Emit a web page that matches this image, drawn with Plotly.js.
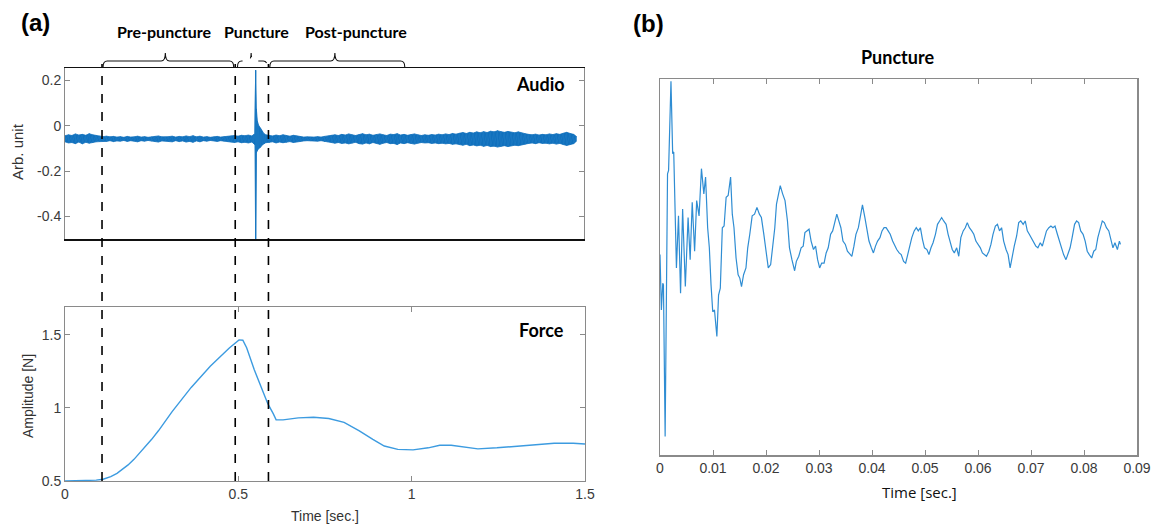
<!DOCTYPE html>
<html>
<head>
<meta charset="utf-8">
<script src="https://cdn.plot.ly/plotly-3.0.1.min.js"></script>
<style>html,body{margin:0;padding:0;background:#fff;}#chart{width:1156px;height:526px;}</style>
</head>
<body>
<div id="chart"></div>
<script>
// ---------- Panel (a) : Audio (min/max envelope per time bin) ----------
const audioT = [0.00,0.01,0.02,0.03,0.04,0.05,0.06,0.07,0.08,0.09,
  0.10,0.11,0.12,0.13,0.14,0.15,0.16,0.17,0.18,0.19,0.20,0.21,0.22,0.23,0.24,0.25,0.26,0.27,0.28,0.29,
  0.30,0.31,0.32,0.33,0.34,0.35,0.36,0.37,0.38,0.39,0.40,0.41,0.42,0.43,0.44,0.45,0.46,0.47,
  0.48,0.49,0.50,0.51,0.52,0.53,
  0.540,0.545,0.549,0.551,0.553,0.556,0.560,0.565,0.570,0.575,0.580,
  0.59,0.60,0.61,0.62,0.63,0.64,0.65,0.66,0.67,0.68,
  0.69,0.70,0.71,0.72,0.73,0.74,0.75,0.76,
  0.77,0.78,0.79,0.80,0.81,0.82,0.83,0.84,0.85,0.86,0.87,0.88,0.89,0.90,0.91,0.92,0.93,0.94,0.95,0.96,
  0.97,0.98,0.99,1.00,1.01,1.02,1.03,1.04,1.05,1.06,1.07,1.08,1.09,1.10,1.11,1.12,1.13,
  1.14,1.15,1.16,1.17,1.18,1.19,1.20,1.21,1.22,1.23,1.24,1.25,1.26,1.27,1.28,1.29,1.30,1.31,1.32,1.33,
  1.34,1.35,1.36,1.37,1.38,1.39,1.40,1.41,1.42,1.43,1.44,1.45,1.46,1.47,1.477];
const audioHi = [-0.044,-0.040,-0.043,-0.036,-0.041,-0.038,-0.042,-0.035,-0.040,-0.043,
  -0.045,-0.048,-0.046,-0.049,-0.047,-0.050,-0.048,-0.051,-0.047,-0.050,-0.049,-0.046,-0.050,-0.048,-0.051,-0.049,-0.047,-0.045,-0.049,-0.050,
  -0.048,-0.046,-0.050,-0.047,-0.049,-0.045,-0.048,-0.044,-0.049,-0.046,-0.050,-0.048,-0.051,-0.049,-0.047,-0.050,-0.048,-0.046,
  -0.045,-0.043,-0.046,-0.042,-0.044,-0.041,
  -0.045,-0.040,-0.035,0.245,0.075,0.020,0.000,-0.010,-0.025,-0.035,-0.040,
  -0.043,-0.045,-0.041,-0.044,-0.040,-0.043,-0.046,-0.042,-0.045,-0.048,
  -0.050,-0.049,-0.051,-0.050,-0.048,-0.050,-0.047,-0.045,
  -0.042,-0.040,-0.043,-0.038,-0.041,-0.036,-0.040,-0.043,-0.039,-0.035,-0.040,-0.037,-0.042,-0.038,-0.036,-0.040,-0.043,-0.037,-0.039,-0.035,
  -0.041,-0.038,-0.042,-0.039,-0.036,-0.040,-0.043,-0.040,-0.042,-0.039,-0.041,-0.037,-0.040,-0.036,-0.039,-0.034,-0.037,
  -0.033,-0.030,-0.034,-0.029,-0.032,-0.027,-0.031,-0.026,-0.030,-0.024,-0.027,-0.022,-0.026,-0.029,-0.025,-0.028,-0.031,-0.027,-0.032,-0.035,
  -0.038,-0.040,-0.037,-0.041,-0.038,-0.040,-0.036,-0.039,-0.035,-0.038,-0.033,-0.029,-0.034,-0.038,-0.046];
const audioLo = [-0.071,-0.076,-0.074,-0.079,-0.072,-0.080,-0.073,-0.077,-0.075,-0.071,
  -0.070,-0.068,-0.069,-0.066,-0.070,-0.067,-0.068,-0.065,-0.069,-0.066,-0.067,-0.071,-0.066,-0.068,-0.065,-0.068,-0.070,-0.072,-0.067,-0.066,
  -0.069,-0.071,-0.066,-0.070,-0.067,-0.072,-0.069,-0.073,-0.067,-0.071,-0.066,-0.068,-0.065,-0.067,-0.069,-0.066,-0.068,-0.071,
  -0.072,-0.074,-0.071,-0.075,-0.073,-0.076,
  -0.072,-0.078,-0.085,-0.500,-0.120,-0.110,-0.100,-0.095,-0.085,-0.080,-0.075,
  -0.074,-0.071,-0.076,-0.072,-0.075,-0.073,-0.070,-0.074,-0.071,-0.069,
  -0.067,-0.066,-0.065,-0.067,-0.068,-0.066,-0.070,-0.072,
  -0.074,-0.077,-0.074,-0.078,-0.076,-0.080,-0.077,-0.073,-0.079,-0.081,-0.076,-0.080,-0.074,-0.078,-0.082,-0.077,-0.074,-0.079,-0.078,-0.083,
  -0.076,-0.079,-0.075,-0.078,-0.081,-0.077,-0.074,-0.076,-0.075,-0.078,-0.076,-0.079,-0.077,-0.080,-0.078,-0.082,-0.080,
  -0.083,-0.086,-0.082,-0.088,-0.085,-0.089,-0.086,-0.091,-0.087,-0.092,-0.090,-0.094,-0.091,-0.088,-0.092,-0.089,-0.086,-0.088,-0.084,-0.081,
  -0.078,-0.076,-0.079,-0.075,-0.078,-0.077,-0.080,-0.077,-0.081,-0.078,-0.083,-0.087,-0.082,-0.079,-0.070];

// ---------- Panel (a) : Force ----------
const forceT = [0,0.055,0.090,0.110,0.132,0.150,0.165,0.182,0.199,0.215,0.232,0.250,0.270,0.309,0.364,0.419,0.474,0.491,0.502,0.513,0.524,0.546,0.568,0.585,0.601,0.609,
  0.629,0.673,0.717,0.761,0.805,0.849,0.888,0.921,0.960,1.004,1.048,1.081,1.114,1.147,1.191,1.246,1.301,1.356,1.411,1.466,1.500];
const forceF = [0.500,0.502,0.506,0.512,0.530,0.552,0.577,0.610,0.648,0.690,0.735,0.785,0.845,0.975,1.140,1.285,1.410,1.447,1.465,1.463,1.412,1.261,1.133,1.029,0.959,0.918,
  0.918,0.932,0.936,0.927,0.901,0.843,0.785,0.739,0.716,0.713,0.727,0.744,0.744,0.732,0.720,0.727,0.737,0.748,0.758,0.758,0.753];

// ---------- Phase boundaries (sec.) ----------
const phaseLines = [0.107, 0.492, 0.588];
const phaseNames = ["Pre-puncture", "Puncture", "Post-puncture"];
const phaseStart = [0.110, 0.4985, 0.592];
const phaseEnd   = [0.4875, 0.585, 0.982];
const phaseMid   = [0.290, 0.538, 0.780];
const phaseLabelX = [0.288, 0.553, 0.840];

// ---------- Panel (b) : Puncture waveform (arb. units) ----------
const punT = [0,0.00026,0.00052,0.00065,0.00097,0.00142,0.00162,0.00207,0.00239,0.00259,0.00310,0.00349,0.00388,0.00427,0.00478,
  0.00530,0.00569,0.00608,0.00653,0.00692,0.00737,0.00782,0.00827,0.00860,0.00899,0.00931,0.00963,0.00995,0.01028,0.01073,
  0.01105,0.01138,0.01176,0.01209,0.01248,0.01286,0.01332,0.01364,0.01396,0.01435,0.01474,0.01506,0.01538,0.01577,0.01622,
  0.01655,0.01694,0.01739,0.01784,0.01829,0.01875,0.01913,0.01959,0.02004,0.02043,0.02088,0.02127,0.02166,0.02198,0.02237,
  0.02269,0.02314,0.02359,0.02405,0.02443,0.02489,0.02540,0.02573,0.02618,0.02663,0.02702,0.02734,0.02773,0.02812,0.02851,
  0.02896,0.02935,0.02974,0.03012,0.03051,0.03096,0.03135,0.03174,0.03219,0.03258,0.03297,0.03336,0.03374,0.03413,0.03452,
  0.03497,0.03536,0.03575,0.03620,0.03659,0.03697,0.03743,0.03782,0.03820,0.03866,0.03904,0.03943,0.03988,0.04027,0.04066,
  0.04105,0.04150,0.04189,0.04228,0.04266,0.04305,0.04344,0.04389,0.04428,0.04467,0.04512,0.04551,0.04596,0.04635,0.04674,
  0.04712,0.04751,0.04796,0.04835,0.04874,0.04913,0.04952,0.04990,0.05036,0.05074,0.05113,0.05152,0.05197,0.05236,0.05275,
  0.05314,0.05352,0.05398,0.05436,0.05475,0.05514,0.05553,0.05598,0.05637,0.05676,0.05721,0.05760,0.05798,0.05837,0.05882,
  0.05921,0.05960,0.05999,0.06044,0.06083,0.06122,0.06160,0.06206,0.06244,0.06283,0.06328,0.06367,0.06406,0.06445,0.06484,
  0.06529,0.06568,0.06606,0.06645,0.06684,0.06729,0.06768,0.06807,0.06852,0.06891,0.06930,0.06968,0.07014,0.07052,0.07091,
  0.07130,0.07175,0.07214,0.07253,0.07292,0.07337,0.07376,0.07414,0.07453,0.07498,0.07537,0.07576,0.07615,0.07660,0.07699,
  0.07738,0.07776,0.07822,0.07860,0.07899,0.07938,0.07983,0.08022,0.08061,0.08100,0.08145,0.08184,0.08222,0.08261,0.08306,
  0.08345,0.08384,0.08423,0.08468,0.08507,0.08546,0.08584,0.08630,0.08668,0.08688];
const punY = [0.066,-0.229,-0.086,-0.095,-0.901,0.496,0.514,0.988,0.603,0.612,-0.005,0.272,-0.140,0.308,-0.104,
  0.263,0.039,0.344,0.084,0.353,0.272,0.523,0.389,0.478,0.209,0.102,-0.095,-0.238,-0.229,-0.369,
  -0.149,-0.113,0.209,0.218,0.371,0.380,0.478,0.281,0.209,0.048,-0.041,-0.059,-0.104,-0.041,-0.005,
  0.102,0.174,0.272,0.281,0.317,0.281,0.263,0.174,0.066,-0.005,0.013,0.102,0.209,0.335,0.389,
  0.433,0.389,0.353,0.245,0.102,0.039,-0.020,0.030,0.057,0.102,0.111,0.183,0.192,0.201,0.138,
  0.093,0.111,0.039,-0.005,0.021,0.021,0.075,0.102,0.174,0.192,0.242,0.281,0.245,0.209,0.138,
  0.120,0.084,0.072,0.057,0.111,0.174,0.209,0.263,0.331,0.263,0.192,0.138,0.102,0.075,0.111,
  0.138,0.156,0.192,0.209,0.209,0.192,0.174,0.138,0.111,0.093,0.075,0.066,0.030,0.020,0.066,
  0.111,0.156,0.192,0.209,0.192,0.209,0.147,0.102,0.093,0.066,0.102,0.129,0.174,0.227,0.245,
  0.263,0.245,0.227,0.174,0.138,0.093,0.075,0.102,0.057,0.156,0.192,0.209,0.236,0.209,0.192,
  0.174,0.138,0.120,0.102,0.075,0.066,0.057,0.084,0.120,0.174,0.218,0.227,0.192,0.209,0.138,
  0.093,0.066,-0.005,0.066,0.111,0.165,0.236,0.245,0.227,0.245,0.192,0.174,0.147,0.129,0.111,
  0.102,0.129,0.111,0.156,0.192,0.209,0.218,0.209,0.218,0.174,0.138,0.093,0.066,0.039,0.075,
  0.102,0.156,0.227,0.245,0.236,0.192,0.174,0.138,0.084,0.066,0.048,0.084,0.093,0.156,0.209,
  0.245,0.236,0.209,0.192,0.138,0.102,0.129,0.093,0.138,0.120];
const punTicks = [0,0.01,0.02,0.03,0.04,0.05,0.06,0.07,0.08,0.09];
const punTickText = ["0","0.01","0.02","0.03","0.04","0.05","0.06","0.07","0.08","0.09"];

// min/max zig-zag and filled envelope built from the envelope arrays
const ax = [], ay = [];
for (let i = 0; i < audioT.length; i++) { ax.push(audioT[i], audioT[i]); ay.push(audioHi[i], audioLo[i]); }
const envX = audioT.concat(audioT.slice().reverse());
const envY = audioHi.concat(audioLo.slice().reverse());

const tickFont = {family: "Liberation Sans, Arial, sans-serif", size: 14, color: "#3a3a3a"};
const gray = "#8a8a8a";

const traces = [
  {x: envX, y: envY, xaxis: "x", yaxis: "y", type: "scatter", mode: "lines", fill: "toself", fillcolor: "#1070BD",
   line: {color: "#1070BD", width: 0.8}, hoverinfo: "skip"},
  {x: ax, y: ay, xaxis: "x", yaxis: "y", type: "scatter", mode: "lines", line: {color: "#1A78C2", width: 1}, hoverinfo: "skip"},
  {x: forceT, y: forceF, xaxis: "x2", yaxis: "y2", type: "scatter", mode: "lines", line: {color: "#3C9BE0", width: 1.4}},
  {x: punT, y: punY, xaxis: "x3", yaxis: "y3", type: "scatter", mode: "lines", line: {color: "#2F8DD3", width: 1.2}}
];

const shapes = [];
phaseLines.forEach(t => shapes.push({type: "line", xref: "x", yref: "paper", x0: t, x1: t, y0: 1 - 481/526, y1: 1 - 64/526,
  line: {color: "#000", width: 1.6, dash: "dash"}}));
const yl = 1 - 61/526, yb = 1 - 67/526, yt = 1 - 53/526, e = 0.012;
for (let i = 0; i < 3; i++) {
  const L = phaseStart[i], R = phaseEnd[i], C = phaseMid[i];
  const p = `M ${L},${yb} Q ${L},${yl} ${L+e},${yl} L ${C-e},${yl} Q ${C},${yl} ${C},${yt} Q ${C},${yl} ${C+e},${yl} L ${R-e},${yl} Q ${R},${yl} ${R},${yb}`;
  shapes.push({type: "path", xref: "x", yref: "paper", path: p, line: {color: "#111", width: 1.1, dash: i === 1 ? "dash" : "solid"}});
}

const bold = "Lato, Open Sans, sans-serif";
const ann = (o) => Object.assign({xref: "paper", yref: "paper", showarrow: false, xanchor: "center", yanchor: "middle"}, o);
const annotations = [];
for (let i = 0; i < 3; i++) annotations.push(ann({xref: "x", x: phaseLabelX[i], y: 1 - 31/526, text: "<b>" + phaseNames[i] + "</b>",
  font: {family: bold, size: 16, color: "#000"}}));
annotations.push(
  ann({x: 35/1156, y: 1 - 22/526, text: "<b>(a)</b>", font: {family: "Liberation Sans, Arial", size: 24, color: "#000"}}),
  ann({x: 648/1156, y: 1 - 24/526, text: "<b>(b)</b>", font: {family: "Liberation Sans, Arial", size: 24, color: "#000"}}),
  ann({x: 540/1156, y: 1 - 84/526, text: "<b>Audio</b>", font: {family: bold, size: 18, color: "#000"}}),
  ann({x: 541/1156, y: 1 - 330/526, text: "<b>Force</b>", font: {family: bold, size: 18, color: "#000"}}),
  ann({x: 897/1156, y: 1 - 57/526, text: "<b>Puncture</b>", font: {family: bold, size: 18, color: "#000"}}),
  ann({x: 17/1156, y: 1 - 152/526, text: "Arb. unit", textangle: -90, font: {family: "Liberation Sans, Arial", size: 15, color: "#333"}}),
  ann({x: 28/1156, y: 1 - 396/526, text: "Amplitude [N]", textangle: -90, font: {family: "Liberation Sans, Arial", size: 14, color: "#333"}}),
  ann({x: 325/1156, y: 1 - 516/526, text: "Time [sec.]", font: {family: "Liberation Sans, Arial", size: 14, color: "#333"}}),
  ann({x: 919/1156, y: 1 - 492/526, text: "Time [sec.]", font: {family: "Open Sans, Liberation Sans", size: 15, color: "#111"}})
);

const layout = {
  width: 1156, height: 526, margin: {l: 0, r: 0, t: 0, b: 0}, paper_bgcolor: "#fff", plot_bgcolor: "#fff", showlegend: false,
  xaxis: {domain: [65/1156, 584/1156], anchor: "y", range: [0, 1.5], showline: true, mirror: true, linecolor: "#111", linewidth: 1.5,
    showgrid: false, zeroline: false, ticks: "", showticklabels: false},
  yaxis: {domain: [1 - 239/526, 1 - 68/526], anchor: "x", range: [-0.5, 0.255], showline: true, mirror: "ticks", linecolor: gray, linewidth: 1,
    showgrid: false, zeroline: false, ticks: "inside", ticklen: 5, tickcolor: gray,
    tickvals: [-0.4, -0.2, 0, 0.2], ticktext: ["-0.4", "-0.2", "0", "0.2"], tickfont: tickFont},
  xaxis2: {domain: [65/1156, 585/1156], anchor: "y2", range: [0, 1.5], showline: true, mirror: "ticks", linecolor: gray, linewidth: 1,
    showgrid: false, zeroline: false, ticks: "inside", ticklen: 5, tickcolor: gray,
    tickvals: [0, 0.5, 1, 1.5], ticktext: ["0", "0.5", "1", "1.5"], tickfont: tickFont},
  yaxis2: {domain: [1 - 481/526, 1 - 307/526], anchor: "x2", range: [0.5, 1.69], showline: true, mirror: "ticks", linecolor: gray, linewidth: 1,
    showgrid: false, zeroline: false, ticks: "inside", ticklen: 5, tickcolor: gray,
    tickvals: [0.5, 1, 1.5], ticktext: ["0.5", "1", "1.5"], tickfont: tickFont},
  xaxis3: {domain: [660/1156, 1137/1156], anchor: "y3", range: [0, 0.09], showline: true, mirror: "ticks", linecolor: gray, linewidth: 1.5,
    showgrid: false, zeroline: false, ticks: "inside", ticklen: 5, tickcolor: gray,
    tickvals: punTicks, ticktext: punTickText, tickfont: tickFont},
  yaxis3: {domain: [1 - 455/526, 1 - 79/526], anchor: "x3", range: [-1, 1], showline: true, mirror: true, linecolor: gray, linewidth: 1.5,
    showgrid: false, zeroline: false, ticks: "", showticklabels: false},
  shapes: shapes, annotations: annotations
};

Plotly.newPlot("chart", traces, layout, {staticPlot: true, displayModeBar: false});
</script>
</body>
</html>
